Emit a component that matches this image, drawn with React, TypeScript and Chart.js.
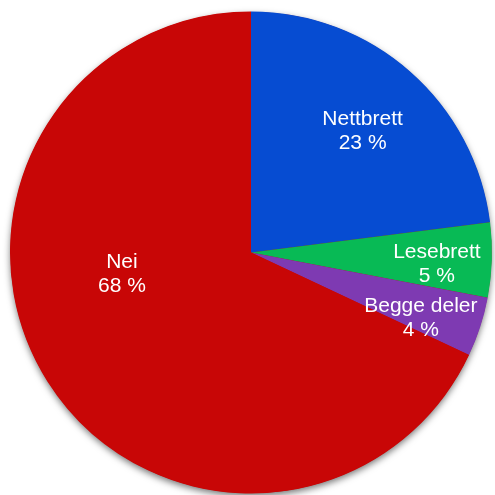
import React, { useEffect, useRef } from "react";
import { Chart, registerables } from "chart.js";

Chart.register(...registerables);

const categories = ["Nettbrett", "Lesebrett", "Begge deler", "Nei"];
const values = [23, 5, 4, 68];
const colors = ["#064CD2", "#08BA55", "#7E3AB2", "#C80606"];
// label placement: angle (deg clockwise from top), radius fraction
const labelAngles = [42.7, 93.7, 111.2, 260.5];
const labelRadii = [0.683, 0.773, 0.756, 0.543];

const shadowPlugin = {
  id: "pieShadow",
  beforeDatasetsDraw(chart: any) {
    const meta = chart.getDatasetMeta(0);
    const arc = meta.data[0];
    if (!arc) return;
    const ctx = chart.ctx;
    ctx.save();
    ctx.shadowColor = "rgba(0,0,0,0.55)";
    ctx.shadowBlur = 7;
    ctx.shadowOffsetY = 3;
    ctx.beginPath();
    ctx.arc(arc.x, arc.y, arc.outerRadius - 0.5, 0, Math.PI * 2);
    ctx.fillStyle = "#C80606";
    ctx.fill();
    ctx.restore();
  },
};

const labelPlugin = {
  id: "pieLabels",
  afterDatasetsDraw(chart: any) {
    const meta = chart.getDatasetMeta(0);
    const ctx = chart.ctx;
    ctx.save();
    ctx.fillStyle = "#ffffff";
    ctx.font = "21px Arial, 'Liberation Sans', sans-serif";
    ctx.textAlign = "center";
    ctx.textBaseline = "middle";
    meta.data.forEach((arc: any, i: number) => {
      const a = (labelAngles[i] * Math.PI) / 180;
      const r = arc.outerRadius * labelRadii[i];
      const x = arc.x + Math.sin(a) * r;
      const y = arc.y - Math.cos(a) * r;
      ctx.fillText(categories[i], x, y - 12);
      ctx.fillText(values[i] + " %", x, y + 12);
    });
    ctx.restore();
  },
};

export default function App() {
  const ref = useRef<HTMLCanvasElement>(null);
  useEffect(() => {
    if (!ref.current) return;
    const chart = new Chart(ref.current, {
      type: "pie",
      data: {
        labels: categories,
        datasets: [
          {
            data: values,
            backgroundColor: colors,
            borderWidth: 0,
          },
        ],
      },
      options: {
        responsive: false,
        animation: false,
        layout: { padding: { left: 10, right: 3, top: 11.5, bottom: 1.5 } },
        plugins: { legend: { display: false }, tooltip: { enabled: false } },
      },
      plugins: [shadowPlugin, labelPlugin],
    });
    return () => chart.destroy();
  }, []);
  return (
    <div style={{ position: "absolute", left: 0, top: 0, width: 495, height: 495, background: "#fff" }}>
      <canvas ref={ref} width={495} height={495} />
    </div>
  );
}
